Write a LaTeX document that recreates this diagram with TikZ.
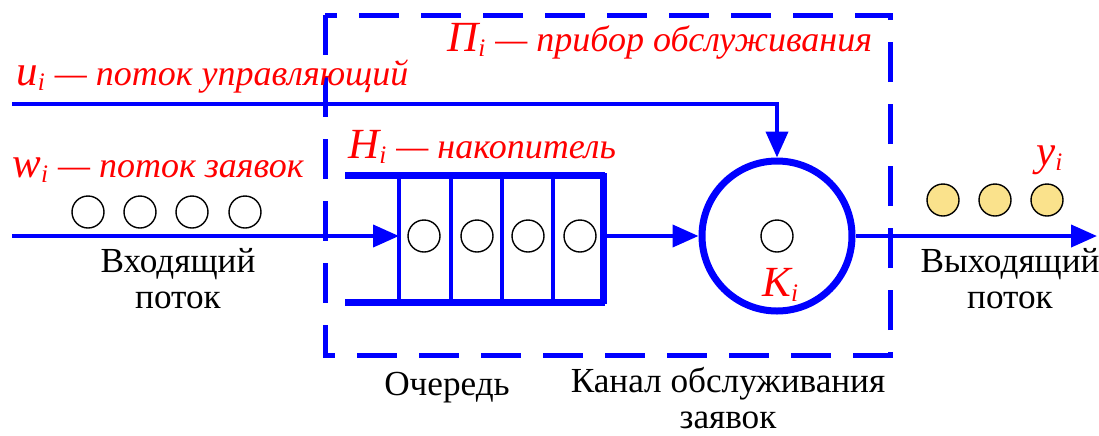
\documentclass[tikz,border=0pt]{standalone}
\usepackage{fontspec}
\setmainfont{Liberation Serif}
\usetikzlibrary{arrows.meta,positioning}
\definecolor{doneyellow}{RGB}{250,226,140}
\newcommand{\varsym}[1]{{\fontsize{21.5}{22}\selectfont #1}\textsubscript{i}}

\begin{document}
\begin{tikzpicture}[x=0.5pt,y=-0.5pt,
    flow/.style={draw=blue,line width=2pt,-{Triangle[length=13pt,width=11pt]}},
    wall/.style={draw=blue,line width=3.5pt},
    cell/.style={draw=blue,line width=2pt},
    req/.style={circle,draw=black,line width=0.7pt,minimum size=16pt,inner sep=0pt},
    done/.style={req,fill=doneyellow},
    redlbl/.style={font=\fontsize{18}{20}\selectfont\itshape,text=red,inner sep=0pt},
    txt/.style={font=\fontsize{17.6}{18}\selectfont,align=center,inner sep=0pt}]
    \useasboundingbox (0,0) rectangle (1099,435);

    \draw[blue,line width=2.5pt,dash pattern=on 20pt off 11pt] (325,15) rectangle (890,355);

    \coordinate (ustart) at (12,104);
    \coordinate (uturn) at (777,104);
    \coordinate (wstart) at (12,236);
    \coordinate (yend) at (1097,236);

    \node[req] (a) at (88,212) {};
    \node[req] (b) at (140,212) {};
    \node[req] (c) at (192,212) {};
    \node[req] (d) at (245,212) {};

    \draw[wall] (345,175) -- (605,175);
    \draw[wall] (345,302) -- (605,302);
    \draw[wall] (603,173.25) -- (603,303.75);
    \foreach \x in {399,451,502,553}
      \draw[cell] (\x,175) -- (\x,302);

    \node[req] (e) at (424,236) {};
    \node[req] (f) at (477,236) {};
    \node[req] (g) at (528,236) {};
    \node[req] (h) at (580,236) {};

    \node[circle,draw=blue,line width=3.5pt,minimum size=75pt,inner sep=0pt] (k) at (777,236) {};
    \node[req] (m) at (777,236) {};

    \node[done] (n) at (943,200) {};
    \node[done] (o) at (995,200) {};
    \node[done] (p) at (1047,200) {};

    \draw[flow] (wstart) -- (399,236);
    \draw[flow] (605,236) -- (k.west);
    \draw[flow] (k.east) -- (yend);
    \draw[flow] (ustart) -- (uturn) -- (k.north);

    \node[redlbl,anchor=base west] (ul) at (16,85) {\varsym{u} — поток управляющий};
    \node[redlbl,anchor=base west] (wl) at (12,177) {\varsym{w} — поток заявок};
    \node[redlbl,anchor=base west] (hl) at (348,158) {\varsym{H} — накопитель};
    \node[redlbl,anchor=base west] (pl) at (447,51) {\varsym{П} — прибор обслуживания};
    \node[redlbl,anchor=base west] (kl) at (762,296) {\varsym{K}};
    \node[redlbl,anchor=base west] (yl) at (1036,165) {\varsym{y}};

    \node[txt,anchor=base] (il) at (178,308) {Входящий\\поток};
    \node[txt,anchor=base] (ol) at (1010,308) {Выходящий\\поток};
    \node[txt,anchor=base] (ql) at (447,395) {Очередь};
    \node[txt,anchor=base] (cl) at (728,428) {Канал обслуживания\\заявок};
  \end{tikzpicture}
\end{document}
